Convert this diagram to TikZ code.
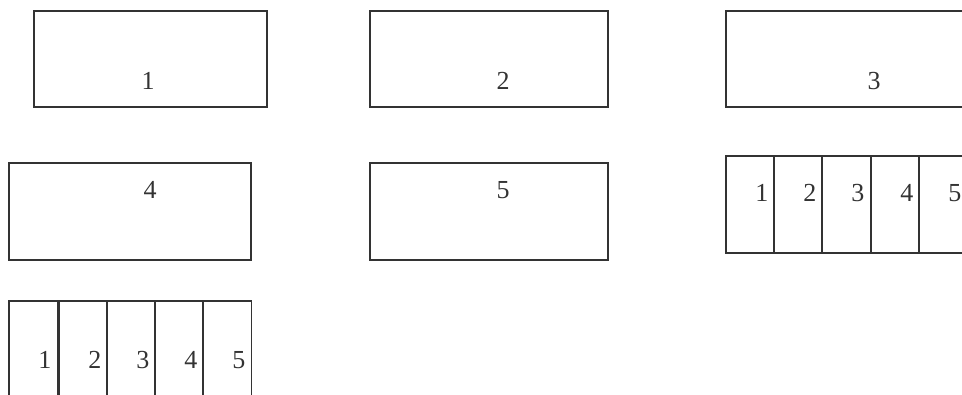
\documentclass[tikz,border=0pt]{standalone}
\usepackage{fontspec}
\setmainfont{Liberation Serif}
\begin{document}
\begin{tikzpicture}[x=1pt,y=-1pt,
  box/.style={draw=black!80,line width=1.2pt,inner sep=0pt,outer sep=0pt,anchor=north west},
  digit/.style={inner sep=0pt,font=\fontsize{26}{26}\selectfont,text=black!80},
  celldigit/.style={digit,anchor=east}]
\useasboundingbox (0,0) rectangle (962,395);
\clip (0,0) rectangle (962,395);
% row 1
\node[box,minimum width=233pt,minimum height=96pt] (b1) at (34,11) {};
\node[box,minimum width=238pt,minimum height=96pt] (b2) at (370,11) {};
\node[box,minimum width=250pt,minimum height=96pt] (b3) at (726,11) {};
\node[digit] (t1) at (148,81) {1};
\node[digit] (t2) at (503,81) {2};
\node[digit] (t3) at (874,81) {3};
% row 2
\node[box,minimum width=242pt,minimum height=97pt] (b4) at (9,163) {};
\node[box,minimum width=238pt,minimum height=97pt] (b5) at (370,163) {};
\node[digit] (t4) at (150,190) {4};
\node[digit] (t5) at (503,190) {5};
% strip right
\foreach \i/\x in {1/726,2/774,3/822,4/871,5/919}{
  \node[box,minimum width=48.5pt,minimum height=97pt] (s\i) at (\x,156) {};
  \node[celldigit] (sd\i) at ([xshift=-6pt,yshift=-37pt]s\i.north east) {\i};
}
% strip bottom
\foreach \i/\x in {1/9,2/59,3/107,4/155,5/203}{
  \node[box,minimum width=48.5pt,minimum height=110pt] (r\i) at (\x,301) {};
  \node[celldigit] (rd\i) at ([xshift=-6pt,yshift=-59pt]r\i.north east) {\i};
}
\end{tikzpicture}
\end{document}
